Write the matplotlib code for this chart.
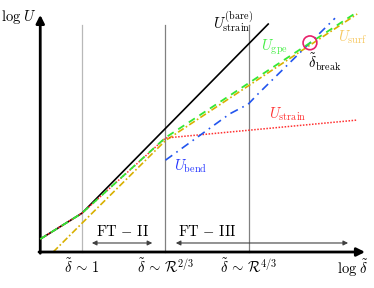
import matplotlib
matplotlib.use('Agg')
import matplotlib.pyplot as plt
from matplotlib.patches import Circle

plt.rcParams['mathtext.fontset'] = 'cm'
plt.rcParams['font.family'] = 'serif'
plt.rcParams['font.serif'] = ['DejaVu Serif']

# schematic log-log curves (log delta, log U), regime marks at 0, 2, 4
x_bare = [-1.0, 0.0, 4.46]
y_bare = [0.31, 0.93, 5.46]

x_strain = [-1.0, 0.0, 2.0, 6.59]
y_strain = [0.31, 0.93, 2.73, 3.16]

x_gpe = [-1.0, 0.0, 2.0, 6.61]
y_gpe = [0.31, 0.93, 2.74, 5.76]

x_surf = [-0.69, 0.0, 2.0, 6.59]
y_surf = [0.0, 0.69, 2.67, 5.70]

x_bend = [2.0, 3.54, 3.98, 4.19, 6.06]
y_bend = [2.20, 3.31, 3.54, 3.76, 5.60]

x_break, y_break = 5.46, 5.01

regimes = [0.0, 2.0, 4.0]
regime_labels = [r'$\tilde{\delta}\,\sim\, 1$',
                 r'$\tilde{\delta}\,\sim\, \mathcal{R}^{2/3}$',
                 r'$\tilde{\delta}\,\sim\, \mathcal{R}^{4/3}$']
regime_colors = ['#b8b8b8', '#808080', '#808080']

fig = plt.figure(figsize=(3.74, 2.88), dpi=100)
ax = fig.add_axes([0, 0, 1, 1])
ax.set_xlim(-1.964, 6.994)
ax.set_ylim(-0.862, 6.036)
ax.axis('off')

# regime lines
for xr, c in zip(regimes, regime_colors):
    ax.plot([xr, xr], [0, 5.44], color=c, lw=0.9, zorder=1)
for xr, lab in zip(regimes, regime_labels):
    ax.text(xr, -0.34, lab, ha='center', va='center', fontsize=10.5)

# curves
ax.plot(x_bare, y_bare, color='black', lw=1.2, zorder=2)
ax.plot(x_surf, y_surf, color='#d8b000', lw=1.2, ls=(0, (4, 1.5, 1, 1.5)), zorder=3)
ax.plot(x_strain, y_strain, color='#ff3030', lw=1.1, ls=(0, (1, 1)), zorder=4)
ax.plot(x_gpe, y_gpe, color='#33e833', lw=1.3, ls=(0, (4, 3)), zorder=5)
ax.plot(x_bend, y_bend, color='#2255ee', lw=1.2, ls=(0, (5, 3, 1, 3)), zorder=4)

ax.add_patch(Circle((x_break, y_break), 0.165, fill=False, ec='#e8206a', lw=1.2, zorder=6))

# labels
ax.text(3.62, 5.51, r'$U_{\mathrm{strain}}^{\mathrm{(bare)}}$', ha='center', va='center', fontsize=10.5)
ax.text(4.62, 4.91, r'$U_{\mathrm{gpe}}$', ha='center', va='center', fontsize=10.5, color='#44ee44')
ax.text(6.49, 5.15, r'$U_{\mathrm{surf}}$', ha='center', va='center', fontsize=10.5, color='#f7c860')
ax.text(5.82, 4.53, r'$\tilde{\delta}_{\mathrm{break}}$', ha='center', va='center', fontsize=10.5)
ax.text(4.93, 3.31, r'$U_{\mathrm{strain}}$', ha='center', va='center', fontsize=10.5, color='#ff3030')
ax.text(2.59, 2.06, r'$U_{\mathrm{bend}}$', ha='center', va='center', fontsize=10.5, color='#2233ff')

# regime arrows
ax.annotate('', xy=(1.75, 0.216), xytext=(0.17, 0.216),
            arrowprops=dict(arrowstyle='<|-|>', color='#404040', lw=0.8, mutation_scale=7))
ax.annotate('', xy=(6.44, 0.216), xytext=(2.18, 0.216),
            arrowprops=dict(arrowstyle='<|-|>', color='#404040', lw=0.8, mutation_scale=7))
ax.text(0.96, 0.48, r'$\mathrm{FT}\,-\,\mathrm{II}$', ha='center', va='center', fontsize=10.5)
ax.text(3.0, 0.48, r'$\mathrm{FT}\,-\,\mathrm{III}$', ha='center', va='center', fontsize=10.5)

# axes arrows
ax.annotate('', xy=(6.78, 0), xytext=(-1.03, 0),
            arrowprops=dict(arrowstyle='-|>', color='black', lw=2, mutation_scale=12, shrinkA=0, shrinkB=0))
ax.annotate('', xy=(-1.0, 5.68), xytext=(-1.0, -0.03),
            arrowprops=dict(arrowstyle='-|>', color='black', lw=2, mutation_scale=12, shrinkA=0, shrinkB=0))
ax.text(-1.51, 5.63, r'$\log\,U$', ha='center', va='center', fontsize=10.5)
ax.text(6.49, -0.38, r'$\log\,\tilde{\delta}$', ha='center', va='center', fontsize=10.5)

fig.savefig('out.png', dpi=100)
